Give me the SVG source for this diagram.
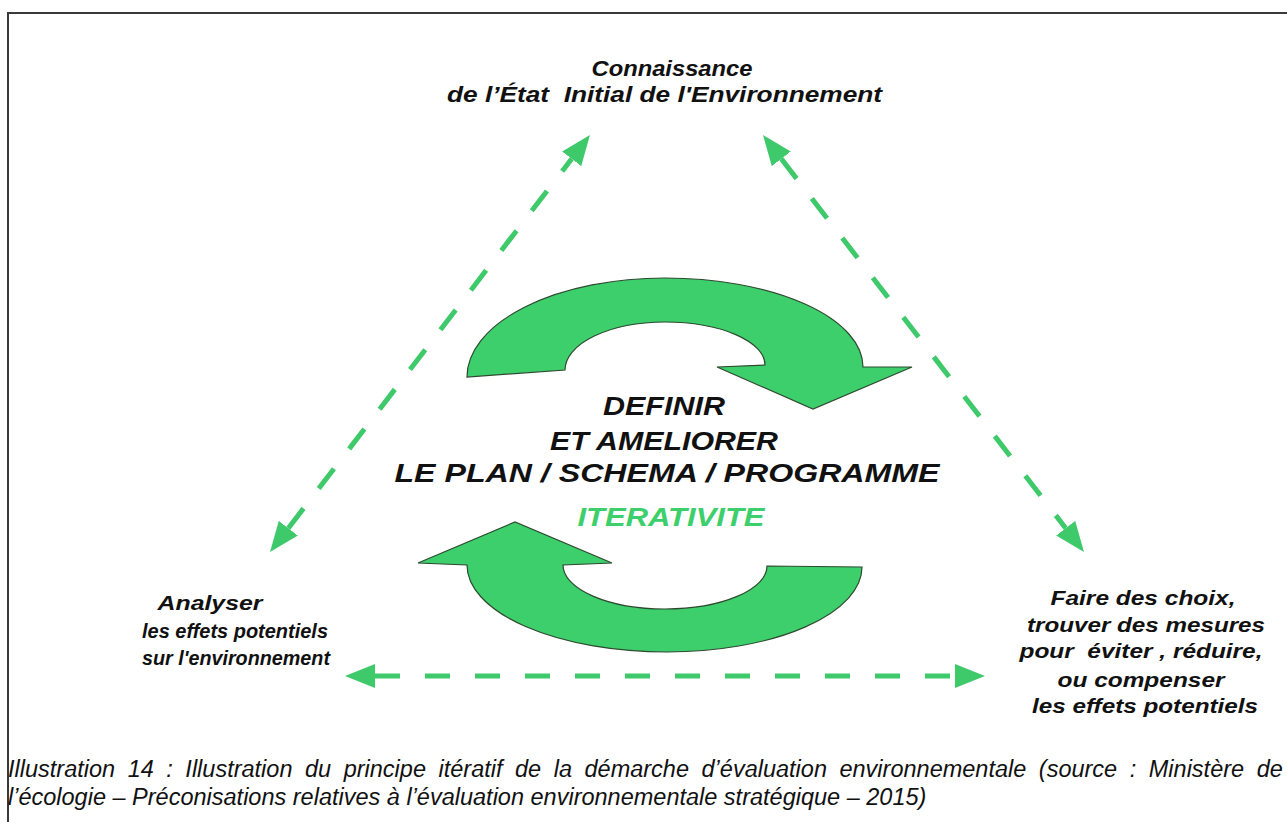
<svg xmlns="http://www.w3.org/2000/svg" width="1287" height="822" viewBox="0 0 1287 822">
<style>
.lbl{font-family:"Liberation Sans",Arial,sans-serif;font-weight:bold;font-style:italic;fill:#111;text-anchor:middle;white-space:pre}
.mid{font-size:26px}
.side{font-size:21px}
.green{fill:#3ccf6b}
.cap{font-family:"Liberation Sans",Arial,sans-serif;font-style:italic;font-size:23.5px;fill:#111;white-space:pre}
.dash{stroke:#3ec96a;stroke-width:5;stroke-dasharray:25 25;fill:none}
.cyc{fill:#3ccf6b;stroke:#2d4a30;stroke-width:1.2;stroke-linejoin:miter}
</style>
<defs>
<marker id="ah" viewBox="0 0 30 24" refX="0" refY="12" markerWidth="30" markerHeight="24" markerUnits="userSpaceOnUse" orient="auto-start-reverse">
<path d="M0,0 L30,12 L0,24 Z" fill="#3ec96a"/>
</marker>
</defs>
<rect width="1287" height="822" fill="#fff"/>
<path d="M8,822 V13 H1287" fill="none" stroke="#3a3a3a" stroke-width="2"/>

<g id="connectors">
<line class="dash" x1="288.3" y1="528.2" x2="571.7" y2="158.8" marker-start="url(#ah)" marker-end="url(#ah)"/>
<line class="dash" x1="781.3" y1="158.8" x2="1065.7" y2="528.2" marker-start="url(#ah)" marker-end="url(#ah)"/>
<line class="dash" x1="375" y1="676" x2="955" y2="676" marker-start="url(#ah)" marker-end="url(#ah)"/>
</g>

<g id="cycle-top">
<path class="cyc" d="M467,377 A198,99 0 0 1 665,278 A198,89 0 0 1 863,367 L912,367 L813,409 L717,367 L765,365 A100,43 0 0 0 665,322 A100,48 0 0 0 565,370 Z"/>
</g>
<g id="cycle-bottom">
<path class="cyc" d="M612,563 L515,522 L418,563 L467,565 A200,87 0 0 0 667,652 A195,85 0 0 0 862,567 L767,566 A102,43 0 0 1 665,609 A102,44 0 0 1 563,565 Z"/>
</g>

<g id="node-top">
<text class="lbl" x="672" y="76" textLength="161" lengthAdjust="spacingAndGlyphs" style="font-size:22px">Connaissance</text>
<text class="lbl" x="664.5" y="102" textLength="435" lengthAdjust="spacingAndGlyphs" style="font-size:22px">de l’État  Initial de l'Environnement</text>
</g>

<g id="node-center">
<text class="lbl mid" x="664" y="415" textLength="122" lengthAdjust="spacingAndGlyphs">DEFINIR</text>
<text class="lbl mid" x="664" y="450" textLength="228" lengthAdjust="spacingAndGlyphs">ET AMELIORER</text>
<text class="lbl mid" x="667" y="482" textLength="545" lengthAdjust="spacingAndGlyphs">LE PLAN / SCHEMA / PROGRAMME</text>
<text class="lbl mid green" x="671" y="526" textLength="187" lengthAdjust="spacingAndGlyphs">ITERATIVITE</text>
</g>

<g id="node-left">
<text class="lbl side" x="210" y="610" textLength="105" lengthAdjust="spacingAndGlyphs">Analyser</text>
<text class="lbl side" x="235" y="638" textLength="186" lengthAdjust="spacingAndGlyphs">les effets potentiels</text>
<text class="lbl side" x="236" y="665" textLength="188" lengthAdjust="spacingAndGlyphs">sur l'environnement</text>
</g>

<g id="node-right">
<text class="lbl side" x="1143" y="605" textLength="185" lengthAdjust="spacingAndGlyphs">Faire des choix,</text>
<text class="lbl side" x="1146" y="632" textLength="238" lengthAdjust="spacingAndGlyphs">trouver des mesures</text>
<text class="lbl side" x="1141" y="658" textLength="243" lengthAdjust="spacingAndGlyphs">pour  éviter , réduire,</text>
<text class="lbl side" x="1141" y="687" textLength="167" lengthAdjust="spacingAndGlyphs">ou compenser</text>
<text class="lbl side" x="1145" y="713" textLength="226" lengthAdjust="spacingAndGlyphs">les effets potentiels</text>
</g>

<g id="caption">
<text class="cap" x="8" y="777" word-spacing="6">Illustration 14 : Illustration du principe itératif de la démarche d’évaluation environnementale (source : Ministère de</text>
<text class="cap" x="8" y="805">l’écologie – Préconisations relatives à l’évaluation environnementale stratégique – 2015)</text>
</g>
</svg>
